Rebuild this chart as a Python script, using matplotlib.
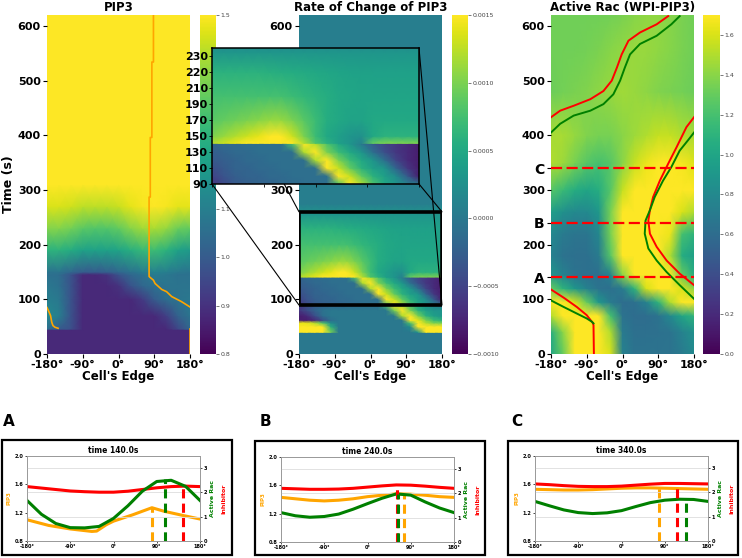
import numpy as np
import matplotlib
matplotlib.use('Agg')
import matplotlib.pyplot as plt
from matplotlib.patches import Rectangle, ConnectionPatch

# ---------------- heatmap data ----------------
grid30_deg = [-180, -150, -120, -90, -60, -30, 0, 30, 60, 90, 120, 150, 180]

pip3_t = [0, 44, 46, 70, 100, 125, 145, 150, 190, 230, 270, 310, 620]
pip3_val = [
    [0.88] * 13,
    [0.88] * 13,
    [1.05, 1.00, 0.97, 0.88, 0.88, 0.88, 0.88, 0.88, 0.88, 0.88, 0.88, 0.95, 1.03],
    [1.13, 1.10, 0.98, 0.88, 0.88, 0.88, 0.88, 0.88, 0.88, 0.88, 0.93, 1.02, 1.07],
    [1.10, 1.08, 0.98, 0.88, 0.88, 0.88, 0.88, 0.88, 0.92, 1.00, 1.05, 1.07, 1.08],
    [1.08, 1.06, 0.98, 0.88, 0.88, 0.88, 0.90, 0.98, 1.03, 1.06, 1.07, 1.07, 1.07],
    [1.06, 1.05, 0.98, 0.88, 0.88, 0.90, 0.98, 1.03, 1.06, 1.09, 1.08, 1.06, 1.06],
    [1.07, 1.07, 1.03, 1.00, 1.00, 1.01, 1.03, 1.06, 1.09, 1.11, 1.10, 1.08, 1.07],
    [1.25, 1.25, 1.23, 1.20, 1.20, 1.20, 1.21, 1.24, 1.27, 1.28, 1.25, 1.20, 1.18],
    [1.37, 1.37, 1.35, 1.32, 1.31, 1.31, 1.33, 1.37, 1.40, 1.41, 1.39, 1.34, 1.33],
    [1.46, 1.46, 1.45, 1.43, 1.43, 1.43, 1.44, 1.47, 1.49, 1.50, 1.49, 1.47, 1.47],
    [1.52] * 13,
    [1.55] * 13,
]

rate_deg = list(range(-180, 181, 20))
rate_t = [0, 39.5, 40, 50, 57, 62, 70, 80, 90, 100, 110, 120, 130, 140.5, 141,
          150, 170, 200, 230, 255, 275, 620]
# units of 1e-4
rate_val = [
    [0] * 19,
    [0] * 19,
    [15, 15, 15, 15, 10, 0, 0, 0, 0, 0, 0, 0, 0, 0, 0, 3, 15, 15, 15],
    [15, 15, 15, 15, 6, 0, 0, 0, 0, 0, 0, 0, 0, 0, 2, 15, 15, 15, 15],
    [14, 14, 12, 8, 2, 0, 0, 0, 0, 0, 0, 0, 0, 0, 8, 15, 12, 10, 10],
    [-8, -8, -7, -4, -1, 0, 0, 0, 0, 0, 0, 0, 0, 0, 15, 14, 10, 7, 6],
    [-8, -7, -4, -1, 0, 0, 0, 0, 0, 0, 0, 0, 0, 12, 15, 10, 6, 4, 3],
    [-6, -4, -2, -0.5, 0, 0, 0, 0, 0, 0, 0, 0, 10, 15, 10, 6, 4, 3, 3],
    [-6, -4.5, -3, -2.5, -2, -2, -1.5, -1.5, -1, -1, -1, 8, 15, 12, 8, 5, 3, 1, 0],
    [-5, -3.5, -2.5, -2, -2, -1.5, -1.5, -1, -1, -1, -1, 15, 13, 9, 6, 4, 2, -3, -8],
    [-4, -3, -2, -2, -1.5, -1.5, -1, -1, -1, -1, 15, 13, 9, 6, 4, 3, -2, -6, -8],
    [-3, -2.5, -2, -1.5, -1.5, -1, -1, -1, -1, 12, 15, 10, 7, 5, 3, -1, -5, -7, -8],
    [-2.5, -2, -1.5, -1.5, -1, -1, -1, -1, 12, 15, 10, 7, 5, 3, -1, -4, -6, -7, -8],
    [-2, -1.5, -1.5, -1, -1, -1, -1, 8, 15, 12, 8, 5, 3, 0, -3, -5, -6, -7, -8],
    [12, 13, 14, 15, 16, 16, 16, 16, 12, 8, 6, 4, 3, 1, 9, 10, 10, 10, 10],
    [10, 11, 12, 13, 14, 15, 15, 13, 10, 7, 5, 4, 3, 2.5, 5, 6, 6, 6, 6],
    [8.5, 9, 9.5, 10, 10.5, 11, 11, 10, 8.5, 7, 5.5, 5, 4.5, 4.5, 5, 5, 5, 5, 5],
    [7.5, 7.5, 7.5, 7.5, 7.5, 7.5, 7.5, 7, 6.5, 6, 5.5, 5, 4.8, 4.6, 4.6, 4.6, 4.6, 4.6, 4.6],
    [6, 6, 6, 6, 6, 5.8, 5.6, 5.4, 5.2, 5, 4.8, 4.6, 4.4, 4.3, 4.2, 4.2, 4.2, 4.2, 4.2],
    [3] * 19,
    [0.6] * 19,
    [0.6] * 19,
]

rac_t = [0, 40, 70, 95, 120, 145, 180, 220, 260, 300, 350, 400, 480, 560, 620]
rac_val = [
    [1.00, 1.30, 1.75, 1.75, 1.75, 1.60, 0.75, 0.65, 0.65, 0.65, 0.65, 0.70, 0.80],
    [1.05, 1.40, 1.75, 1.75, 1.75, 1.50, 0.70, 0.62, 0.62, 0.63, 0.65, 0.75, 0.85],
    [1.50, 1.70, 1.75, 1.75, 1.70, 1.20, 0.65, 0.60, 0.60, 0.65, 0.80, 1.00, 1.10],
    [1.70, 1.75, 1.60, 1.30, 0.90, 0.70, 0.60, 0.62, 0.75, 1.10, 1.50, 1.70, 1.70],
    [1.30, 1.10, 0.90, 0.75, 0.65, 0.62, 0.70, 1.10, 1.60, 1.75, 1.75, 1.60, 1.40],
    [0.90, 0.75, 0.65, 0.62, 0.62, 0.75, 1.40, 1.75, 1.75, 1.75, 1.70, 1.30, 1.05],
    [0.75, 0.65, 0.62, 0.62, 0.70, 1.25, 1.75, 1.75, 1.75, 1.75, 1.50, 1.05, 0.95],
    [0.80, 0.70, 0.66, 0.66, 0.78, 1.35, 1.75, 1.75, 1.75, 1.75, 1.65, 1.20, 1.10],
    [0.95, 0.85, 0.80, 0.80, 0.90, 1.35, 1.72, 1.75, 1.75, 1.75, 1.75, 1.60, 1.50],
    [1.25, 1.15, 1.05, 1.00, 1.05, 1.25, 1.55, 1.72, 1.75, 1.75, 1.75, 1.75, 1.70],
    [1.50, 1.45, 1.35, 1.25, 1.20, 1.25, 1.40, 1.55, 1.65, 1.72, 1.72, 1.68, 1.62],
    [1.48, 1.48, 1.43, 1.38, 1.35, 1.35, 1.40, 1.45, 1.50, 1.55, 1.55, 1.50, 1.48],
    [1.32, 1.34, 1.36, 1.38, 1.41, 1.44, 1.46, 1.44, 1.41, 1.38, 1.36, 1.34, 1.32],
    [1.33, 1.33, 1.33, 1.34, 1.36, 1.39, 1.42, 1.44, 1.44, 1.42, 1.39, 1.36, 1.33],
    [1.33, 1.33, 1.33, 1.33, 1.33, 1.34, 1.36, 1.39, 1.42, 1.42, 1.39, 1.36, 1.33],
]

# ---------------- front lines ----------------
pip3_peak_edge_t = [0, 45]
pip3_peak_edge_deg = [179.5, 179.5]
pip3_peak_left_t = [85, 77, 70, 58, 52, 49, 47]
pip3_peak_left_deg = [-180, -175, -171, -168, -165, -160, -152]
pip3_peak_main_t = [86, 96, 105, 114, 118, 129, 135, 141, 142, 287, 287, 396, 396, 534, 534, 620]
pip3_peak_main_deg = [180, 158, 134, 121, 109, 92, 88, 78, 77, 77, 80, 80, 84, 84, 88, 88]

inh_low_t = [0, 53, 57, 71, 86, 103, 118]
inh_low_deg = [-72, -73, -75, -90, -115, -148, -180]
rac_low_t = [56, 59, 65, 74, 86, 98]
rac_low_deg = [-73, -77, -90, -115, -148, -180]
inh_mid_t = [126, 147, 171, 196, 220, 244, 263, 287, 317, 348, 378, 415, 433]
inh_mid_deg = [180, 144, 111, 86, 69, 65, 69, 77, 94, 115, 136, 161, 180]
rac_mid_t = [101, 126, 150, 171, 193, 220, 244, 263, 287, 317, 342, 372, 391, 405]
rac_mid_deg = [180, 144, 111, 86, 65, 56, 58, 69, 81, 102, 123, 144, 165, 180]
inh_top_t = [433, 445, 454, 466, 481, 500, 524, 548, 573, 588, 603, 618]
inh_top_deg = [-180, -157, -123, -81, -48, -27, -14, -2, 15, 44, 86, 115]
rac_top_t = [405, 421, 436, 445, 457, 475, 500, 524, 548, 567, 582, 603, 618]
rac_top_deg = [-180, -157, -123, -81, -48, -23, -6, 6, 19, 44, 86, 123, 144]

snap_times = [140, 240, 340]
snap_letters = ['A', 'B', 'C']

# ---------------- snapshot profiles ----------------
pip3_a_deg = [-180, -135, -90, -45, -35, -15, 0, 40, 80, 105, 145, 180]
pip3_a = [1.10, 1.02, 0.97, 0.935, 0.94, 1.03, 1.08, 1.17, 1.27, 1.22, 1.16, 1.11]
pip3_b = [1.43, 1.41, 1.39, 1.38, 1.39, 1.41, 1.44, 1.46, 1.48, 1.475, 1.46, 1.44, 1.43]
pip3_c = [1.53, 1.525, 1.52, 1.52, 1.525, 1.535, 1.545, 1.55, 1.55, 1.545, 1.54, 1.535, 1.53]
rac_a = [1.67, 1.10, 0.72, 0.55, 0.54, 0.60, 0.93, 1.45, 2.05, 2.45, 2.50, 2.25, 1.67]
rac_b = [1.21, 1.08, 1.02, 1.05, 1.15, 1.35, 1.58, 1.80, 1.98, 1.93, 1.65, 1.40, 1.21]
rac_c = [1.63, 1.45, 1.28, 1.17, 1.13, 1.16, 1.25, 1.42, 1.58, 1.68, 1.72, 1.71, 1.63]
inh_a = [2.24, 2.18, 2.12, 2.06, 2.03, 2.01, 2.01, 2.05, 2.12, 2.19, 2.24, 2.26, 2.24]
inh_b = [2.21, 2.19, 2.17, 2.17, 2.18, 2.21, 2.26, 2.31, 2.35, 2.34, 2.30, 2.25, 2.21]
inh_c = [2.35, 2.32, 2.28, 2.25, 2.24, 2.24, 2.26, 2.30, 2.34, 2.37, 2.37, 2.36, 2.35]

pip3_peak_deg = [80, 75, 77.5]
pip3_peak_val = [1.27, 1.475, 1.55]
rac_peak_deg = [108, 64, 135]
rac_peak_val = [2.55, 1.98, 1.71]
inh_peak_deg = [144, 61, 116]
inh_peak_val = [2.26, 2.35, 2.37]

edge_ticks = [-180, -90, 0, 90, 180]
edge_labels = ['-180°', '-90°', '0°', '90°', '180°']

W, H = 742, 558
fig = plt.figure(figsize=(W / 100, H / 100), dpi=100)


def px(x0, y0, x1, y1):
    return [x0 / W, 1 - y1 / H, (x1 - x0) / W, (y1 - y0) / H]


def bold_ticks(ax):
    for lab in ax.get_xticklabels() + ax.get_yticklabels():
        lab.set_fontweight('bold')


def heat(ax, deg, t, val, vmin, vmax, title):
    m = ax.pcolormesh(deg, t, np.array(val), shading='gouraud', cmap='viridis',
                      vmin=vmin, vmax=vmax, rasterized=True)
    ax.set_xlim(-180, 180)
    ax.set_ylim(0, 620)
    ax.set_xticks(edge_ticks, edge_labels)
    ax.set_yticks(range(0, 601, 100))
    ax.tick_params(labelsize=8, length=3, width=0.8, pad=1.5)
    for s in ax.spines.values():
        s.set_visible(False)
    ax.set_title(title, fontsize=8.5, fontweight='bold', pad=3)
    ax.set_xlabel("Cell's Edge", fontsize=8.5, fontweight='bold', labelpad=0)
    bold_ticks(ax)
    return m


def cbar(m, rect, ticks, labels):
    cax = fig.add_axes(px(*rect))
    cb = fig.colorbar(m, cax=cax)
    cb.set_ticks(ticks, labels=labels)
    cb.outline.set_visible(False)
    cax.tick_params(labelsize=4.5, length=2, width=0.5, colors='#444444', pad=1)
    return cb


# ---- panel 1: PIP3 ----
ax1 = fig.add_axes(px(47, 15, 190, 354))
m1 = heat(ax1, grid30_deg, pip3_t, pip3_val, 0.8, 1.5, 'PIP3')
ax1.set_ylabel('Time (s)', fontsize=9, fontweight='bold', labelpad=2)
for dd, tt in [(pip3_peak_edge_deg, pip3_peak_edge_t), (pip3_peak_left_deg, pip3_peak_left_t),
               (pip3_peak_main_deg, pip3_peak_main_t)]:
    ax1.plot(dd, tt, color='orange', lw=1.2, clip_on=True)
cbar(m1, (200, 15, 216, 354), [0.8, 0.9, 1.0, 1.1, 1.2, 1.3, 1.4, 1.5],
     ['0.8', '0.9', '1.0', '1.1', '1.2', '1.3', '1.4', '1.5'])

# ---- panel 2: rate of change ----
rate_arr = np.array(rate_val) * 1e-4
ax2 = fig.add_axes(px(299, 15, 442, 354))
m2 = heat(ax2, rate_deg, rate_t, rate_arr, -0.001, 0.0015, 'Rate of Change of PIP3')
cbar(m2, (452, 15, 468, 354), [-0.001, -0.0005, 0, 0.0005, 0.001, 0.0015],
     ['\u22120.0010', '\u22120.0005', '0.0000', '0.0005', '0.0010', '0.0015'])
ax2.add_patch(Rectangle((-180, 89.5), 360, 170.5, fill=False, ec='black', lw=2.6, zorder=4))

axin = fig.add_axes(px(212, 48, 419, 184), zorder=5)
axin.pcolormesh(rate_deg, rate_t, rate_arr, shading='gouraud', cmap='viridis',
                vmin=-0.001, vmax=0.0015, rasterized=True)
axin.set_xlim(-180, 180)
axin.set_ylim(90, 260)
axin.set_xticks(edge_ticks, [''] * 5)
axin.set_yticks([90, 110, 130, 150, 170, 190, 210, 230, 250],
                ['90', '110', '130', '150', '170', '190', '210', '220', '230'])
axin.tick_params(labelsize=8, length=2, width=0.6, pad=1)
for s in axin.spines.values():
    s.set_linewidth(1.1)
bold_ticks(axin)

for a_xy, b_xy in [((0, 1), (-180, 260)), ((0, 0), (-180, 89.5)),
                   ((1, 1), (180, 89.5)), ((1, 0), (180, 260))]:
    con = ConnectionPatch(xyA=a_xy, coordsA=axin.transAxes, xyB=b_xy, coordsB=ax2.transData,
                          color='black', lw=0.8, zorder=3)
    fig.add_artist(con)

# ---- panel 3: Active Rac ----
ax3 = fig.add_axes(px(551, 15, 694, 354))
m3 = heat(ax3, grid30_deg, rac_t, rac_val, 0.0, 1.7, 'Active Rac (WPI-PIP3)')
for dd, tt in [(inh_low_deg, inh_low_t), (inh_mid_deg, inh_mid_t), (inh_top_deg, inh_top_t)]:
    ax3.plot(dd, tt, color='red', lw=1.4)
for dd, tt in [(rac_low_deg, rac_low_t), (rac_mid_deg, rac_mid_t), (rac_top_deg, rac_top_t)]:
    ax3.plot(dd, tt, color='green', lw=1.4)
for tt in snap_times:
    ax3.axhline(tt, color='red', lw=1.6, ls=(0, (5, 2)))
yt = [0, 100, 200, 300, 400, 500, 600] + snap_times
yl = ['0', '100', '200', '300', '400', '500', '600'] + snap_letters
ax3.set_yticks(yt, yl)
bold_ticks(ax3)
for lab in ax3.get_yticklabels():
    if lab.get_text() in snap_letters:
        lab.set_fontsize(10)
cbar(m3, (703, 15, 720, 354), [0.0, 0.2, 0.4, 0.6, 0.8, 1.0, 1.2, 1.4, 1.6],
     ['0.0', '0.2', '0.4', '0.6', '0.8', '1.0', '1.2', '1.4', '1.6'])

# ---- bottom snapshots ----
snap_boxes = [(2, 440, 232, 555), (255, 441, 485, 555), (508, 441, 738, 555)]
snap_axes = [(27, 456, 200, 541), (281, 457, 454, 542), (535, 456, 708, 541)]
snap_letter_x = [3, 260, 511]
pip3_profiles = [(pip3_a_deg, pip3_a), (grid30_deg, pip3_b), (grid30_deg, pip3_c)]
rac_profiles = [rac_a, rac_b, rac_c]
inh_profiles = [inh_a, inh_b, inh_c]

for i in range(3):
    bx = snap_boxes[i]
    fig.add_artist(Rectangle((bx[0] / W, 1 - bx[3] / H), (bx[2] - bx[0]) / W, (bx[3] - bx[1]) / H,
                             transform=fig.transFigure, fill=False, ec='black', lw=1.6))
    fig.text(snap_letter_x[i] / W, 1 - 422 / H, snap_letters[i], fontsize=11,
             fontweight='bold', va='center', ha='left')
    ax = fig.add_axes(px(*snap_axes[i]))
    ar = ax.twinx()
    ar.set_ylim(0, 3.5)
    ar.set_yticks([0, 1, 2, 3])
    ar.grid(axis='y', color='#dddddd', lw=0.6)
    ax.set_xlim(-180, 180)
    ax.set_ylim(0.8, 2.0)
    ax.set_yticks([0.8, 1.2, 1.6, 2.0])
    ax.set_xticks(edge_ticks, edge_labels)

    d, p = pip3_profiles[i]
    ax.plot(d, p, color='orange', lw=2.2)
    ax.plot([pip3_peak_deg[i]] * 2, [0.8, pip3_peak_val[i]], color='orange', lw=2.2,
            ls=(0, (3, 1.7)))
    ar.plot(grid30_deg, inh_profiles[i], color='red', lw=2.2)
    ar.plot(grid30_deg, rac_profiles[i], color='green', lw=2.2)
    ar.plot([inh_peak_deg[i]] * 2, [0, inh_peak_val[i]], color='red', lw=2.2, ls=(0, (3, 1.7)))
    ar.plot([rac_peak_deg[i]] * 2, [0, rac_peak_val[i]], color='green', lw=2.2, ls=(0, (3, 1.7)))

    for a in (ax, ar):
        a.tick_params(labelsize=3.6, length=1.5, width=0.5, pad=1)
        for s in a.spines.values():
            s.set_color('#999999')
            s.set_linewidth(0.6)
        bold_ticks(a)
    ax.set_title('time %.1fs' % snap_times[i], fontsize=5.5, fontweight='bold', pad=2)
    ax.set_ylabel('PIP3', color='orange', fontsize=4, fontweight='bold', labelpad=2)
    ax.text(1.075, 0.5, 'Active Rac', color='green', fontsize=4.5, fontweight='bold',
            rotation=90, ha='center', va='center', transform=ax.transAxes)
    ax.text(1.14, 0.5, 'Inhibitor', color='red', fontsize=4.5, fontweight='bold',
            rotation=90, ha='center', va='center', transform=ax.transAxes)

fig.savefig('out.png', dpi=100)
